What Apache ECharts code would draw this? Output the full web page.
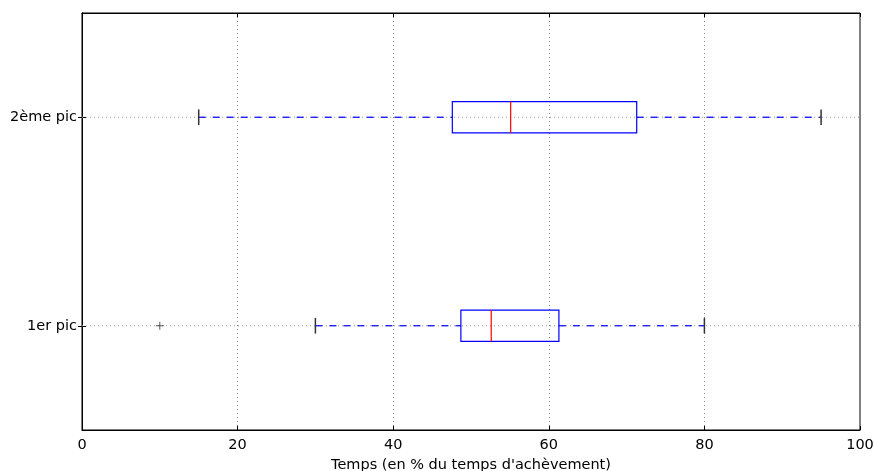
<!DOCTYPE html>
<html>
<head>
<meta charset="utf-8">
<script src="https://cdn.jsdelivr.net/npm/echarts@6/dist/echarts.min.js"></script>
<style>html,body{margin:0;padding:0;background:#fff}#c{width:874px;height:471px}</style>
</head>
<body>
<div id="c"></div>
<script>
// Categories (bottom to top) and their y positions
var categories = ['1er pic', '2ème pic'];
var positions = [1, 2];
// Box statistics
var whiskerLow = [30, 15];
var q1 = [48.7, 47.6];
var median = [52.6, 55.1];
var q3 = [61.3, 71.3];
var whiskerHigh = [80, 95];
// Outliers: [value, position]
var outliers = [[10, 1]];
var xTicks = [0, 20, 40, 60, 80, 100];

var boxData = categories.map(function (c, i) {
  return [positions[i], whiskerLow[i], q1[i], median[i], q3[i], whiskerHigh[i]];
});

var FONT = 'DejaVu Sans';
var FS = 14.5;
var chart = echarts.init(document.getElementById('c'), null, {renderer: 'canvas'});

function renderBox(params, api) {
  var pos = api.value(0);
  var lo = api.value(1), a = api.value(2), m = api.value(3), b = api.value(4), hi = api.value(5);
  var half = 0.075, capHalf = 0.0375;
  var pLo = api.coord([lo, pos]), pA = api.coord([a, pos]), pB = api.coord([b, pos]), pHi = api.coord([hi, pos]);
  var top = api.coord([a, pos + half])[1], bot = api.coord([a, pos - half])[1];
  var cTop = api.coord([a, pos + capHalf])[1], cBot = api.coord([a, pos - capHalf])[1];
  var pM = api.coord([m, pos]);
  var g0 = api.coord([xTicks[0], pos]), g1 = api.coord([xTicks[xTicks.length - 1], pos]);
  var blue = '#0000ff';
  return {
    type: 'group',
    children: [
      {type: 'line', shape: {x1: g0[0], y1: g0[1], x2: g1[0], y2: g1[1]}, style: {stroke: '#999', lineWidth: 1, lineDash: [1, 3]}, z2: 0},
      {type: 'line', shape: {x1: pLo[0], y1: pLo[1], x2: pA[0], y2: pA[1]}, style: {stroke: blue, lineWidth: 1.2, lineDash: [7, 7]}, z2: 1},
      {type: 'line', shape: {x1: pB[0], y1: pB[1], x2: pHi[0], y2: pHi[1]}, style: {stroke: blue, lineWidth: 1.2, lineDash: [7, 7]}, z2: 1},
      {type: 'rect', shape: {x: pA[0], y: top, width: pB[0] - pA[0], height: bot - top}, style: {stroke: blue, fill: null, lineWidth: 1.2}, z2: 2},
      {type: 'line', shape: {x1: pM[0], y1: top, x2: pM[0], y2: bot}, style: {stroke: '#ff0000', lineWidth: 1.2}, z2: 3},
      {type: 'line', shape: {x1: pLo[0], y1: cTop, x2: pLo[0], y2: cBot}, style: {stroke: '#333', lineWidth: 1.5}, z2: 3},
      {type: 'line', shape: {x1: pHi[0], y1: cTop, x2: pHi[0], y2: cBot}, style: {stroke: '#333', lineWidth: 1.5}, z2: 3}
    ]
  };
}

var option = {
  animation: false,
  grid: {left: 82, right: 14, top: 13, bottom: 41, outerBoundsMode: 'none', containLabel: false,
    show: true, borderColor: '#000', borderWidth: 1, backgroundColor: 'transparent'},
  xAxis: [{
    type: 'value', min: 0, max: 100, interval: 20, position: 'bottom',
    name: 'Temps (en % du temps d\'achèvement)', nameLocation: 'middle', nameGap: 28,
    nameTextStyle: {fontFamily: FONT, fontSize: FS, color: '#000'},
    axisLine: {show: true, lineStyle: {color: '#000'}},
    axisTick: {show: true, inside: true, length: 4, lineStyle: {color: '#000'}},
    axisLabel: {fontFamily: FONT, fontSize: FS, color: '#000', margin: 8},
    splitLine: {show: true, lineStyle: {color: '#888', type: [1, 3]}}
  }, {
    type: 'value', min: 0, max: 100, interval: 20, position: 'top',
    axisLine: {show: true, lineStyle: {color: '#000'}},
    axisTick: {show: true, inside: true, length: 4, lineStyle: {color: '#000'}},
    axisLabel: {show: false}, splitLine: {show: false}
  }],
  yAxis: [{
    type: 'value', min: 0.5, max: 2.5, position: 'left',
    axisLine: {show: true, lineStyle: {color: '#000'}},
    axisTick: {show: true, inside: true, length: 4, lineStyle: {color: '#000'}, customValues: positions},
    axisLabel: {fontFamily: FONT, fontSize: FS, color: '#000', margin: 5, customValues: positions,
      formatter: function (v) { var i = positions.indexOf(v); return i >= 0 ? categories[i] : ''; }},
    splitLine: {show: false}
  }, {
    type: 'value', min: 0.5, max: 2.5, position: 'right',
    axisLine: {show: true, lineStyle: {color: '#000'}},
    axisTick: {show: true, inside: true, length: 4, lineStyle: {color: '#000'}, customValues: positions},
    axisLabel: {show: false}, splitLine: {show: false}
  }],
  series: [{
    type: 'custom', xAxisIndex: 0, yAxisIndex: 0,
    renderItem: renderBox,
    encode: {x: [1, 2, 3, 4, 5], y: 0},
    data: boxData, z: 3
  }, {
    type: 'scatter', xAxisIndex: 0, yAxisIndex: 0,
    data: outliers,
    symbol: 'path://M5,0 L5,10 M0,5 L10,5',
    symbolSize: 8,
    itemStyle: {color: 'none', borderColor: '#333', borderWidth: 1},
    z: 4
  }]
};
chart.setOption(option);
</script>
</body>
</html>
